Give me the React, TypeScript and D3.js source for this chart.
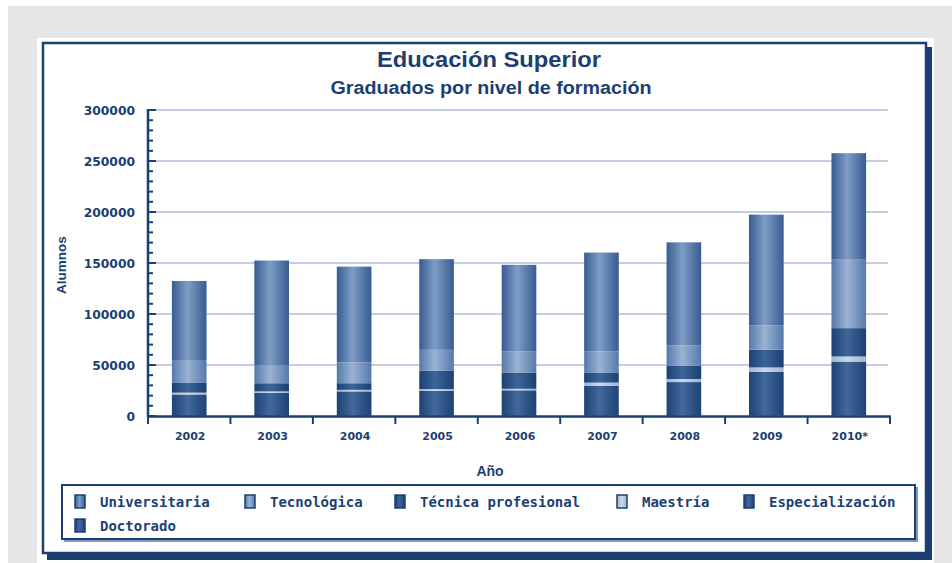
import React from 'react'
import * as d3 from 'd3'

// Data
const years = ['2002', '2003', '2004', '2005', '2006', '2007', '2008', '2009', '2010*']
const universitaria = [77500, 103000, 94000, 88900, 85000, 96800, 101000, 108500, 103800]
const tecnologica = [22500, 17300, 20300, 20300, 20500, 21200, 20000, 23800, 67700]
const tecnicaProfesional = [9500, 8000, 6500, 18200, 16000, 9500, 13000, 17500, 27800]
const maestria = [1800, 1500, 1500, 1700, 1500, 3000, 3000, 4300, 5000]
const especializacion = [21000, 22500, 24000, 24500, 25000, 29500, 33000, 43000, 53000]
const doctorado = [100, 120, 140, 160, 180, 220, 260, 300, 350]
const yTicks = [0, 50000, 100000, 150000, 200000, 250000, 300000]

const legendOrder = ['Universitaria', 'Tecnológica', 'Técnica profesional', 'Maestría', 'Especialización', 'Doctorado']
// bottom -> top
const stackOrder = ['Doctorado', 'Especialización', 'Maestría', 'Técnica profesional', 'Tecnológica', 'Universitaria']

const colors: Record<string, [string, string]> = {
  Universitaria: ['#375c91', '#7f9dc6'],
  'Tecnológica': ['#5679aa', '#9bb3d5'],
  'Técnica profesional': ['#1b4174', '#3e6598'],
  'Maestría': ['#9fb3d1', '#cdd8ea'],
  'Especialización': ['#1c4375', '#43689b'],
  Doctorado: ['#1c4375', '#43689b'],
}

const NAVY = '#1c3f72'
const W = 952
const H = 563

const App: React.FC = () => {
  const rows = years.map((y, i) => ({
    year: y,
    Universitaria: universitaria[i],
    'Tecnológica': tecnologica[i],
    'Técnica profesional': tecnicaProfesional[i],
    'Maestría': maestria[i],
    'Especialización': especializacion[i],
    Doctorado: doctorado[i],
  }))

  const x = d3.scaleBand<string>().domain(years).range([148, 890])
  const y = d3.scaleLinear().domain([0, 300000]).range([416, 110])
  const barW = x.bandwidth() * 0.42

  const series = d3.stack<any>().keys(stackOrder)(rows)
  const minor = d3.range(0, 300001, 10000)

  const gid = (k: string) => 'g' + stackOrder.indexOf(k)

  const legendPos = [
    [75, 500], [245, 500], [395, 500], [617, 500], [744, 500], [75, 524],
  ]

  return (
    <svg width={W} height={H} style={{ position: 'absolute', left: 0, top: 0 }}>
      <defs>
        {stackOrder.map((k) => (
          <linearGradient key={k} id={gid(k)} x1="0" x2="1" y1="0" y2="0">
            <stop offset="0%" stopColor={colors[k][0]} />
            <stop offset="45%" stopColor={colors[k][1]} />
            <stop offset="100%" stopColor={colors[k][0]} />
          </linearGradient>
        ))}
      </defs>
      <rect x={0} y={0} width={W} height={H} fill="#ffffff" />
      <rect x={8} y={6} width={W - 8} height={H - 6} fill="#e5e6e8" />
      <rect x={37} y={38} width={897} height={H - 38} fill="#ffffff" />
      {/* panel border with shadow */}
      <rect x={47} y={553} width={885} height={7} fill={NAVY} />
      <rect x={925} y={47} width={7} height={513} fill={NAVY} />
      <rect x={43} y={43} width={883} height={510} fill="none" stroke={NAVY} strokeWidth={2.5} />

      <text x={489} y={67} textAnchor="middle" fontFamily="Liberation Sans, Arial, sans-serif"
        fontWeight="bold" fontSize={22} fill={NAVY} textLength={224} lengthAdjust="spacingAndGlyphs">Educación Superior</text>
      <text x={491} y={94} textAnchor="middle" fontFamily="Liberation Sans, Arial, sans-serif"
        fontWeight="bold" fontSize={17.5} fill={NAVY} textLength={321} lengthAdjust="spacingAndGlyphs">Graduados por nivel de formación</text>

      {/* gridlines */}
      {yTicks.slice(1).map((t) => (
        <line key={t} x1={150} x2={888} y1={y(t)} y2={y(t)} stroke="#c3cee2" strokeWidth={2} />
      ))}

      {/* bars */}
      {series.map((s) => (
        <g key={s.key} fill={`url(#${gid(s.key)})`}>
          {s.map((d, i) => (
            <rect key={i} x={(x(years[i]) as number) + (x.bandwidth() - barW) / 2}
              y={y(d[1])} width={barW} height={Math.max(0, y(d[0]) - y(d[1]))} />
          ))}
        </g>
      ))}

      {/* y axis */}
      <line x1={148} x2={148} y1={109} y2={417} stroke={NAVY} strokeWidth={2.5} />
      {minor.map((t) => (
        <line key={t} x1={148} x2={t % 50000 === 0 ? 156 : 153} y1={y(t)} y2={y(t)} stroke={NAVY} strokeWidth={2} />
      ))}
      {yTicks.map((t) => (
        <text key={t} x={135} y={y(t) + 4.5} textAnchor="end" fontFamily="DejaVu Sans, sans-serif"
          fontWeight="bold" fontSize={12.3} fill={NAVY}>{t}</text>
      ))}
      <text transform="translate(66,265) rotate(-90)" textAnchor="middle" fontFamily="Liberation Sans, Arial, sans-serif"
        fontWeight="bold" fontSize={13.5} fill={NAVY}>Alumnos</text>

      {/* x axis */}
      <line x1={147} x2={891} y1={416.5} y2={416.5} stroke={NAVY} strokeWidth={2.5} />
      {years.map((yr) => (
        <line key={yr} x1={x(yr) as number} x2={x(yr) as number} y1={416} y2={424} stroke={NAVY} strokeWidth={2} />
      ))}
      <line x1={890} x2={890} y1={416} y2={424} stroke={NAVY} strokeWidth={2} />
      {years.map((yr) => (
        <text key={yr} x={(x(yr) as number) + x.bandwidth() / 2 + 1} y={440} textAnchor="middle"
          fontFamily="DejaVu Sans, sans-serif" fontWeight="bold" fontSize={11} fill={NAVY}>{yr}</text>
      ))}
      <text x={490} y={476} textAnchor="middle" fontFamily="Liberation Sans, Arial, sans-serif"
        fontWeight="bold" fontSize={14} fill={NAVY}>Año</text>

      {/* legend */}
      <rect x={64} y={487} width={854} height={55} fill="#7d97bf" />
      <rect x={62} y={485} width={853} height={54} fill="#ffffff" stroke={NAVY} strokeWidth={2} />
      {legendOrder.map((k, i) => (
        <g key={k}>
          <rect x={legendPos[i][0]} y={legendPos[i][1] - 5} width={10} height={13}
            fill={`url(#${gid(k)})`} stroke={NAVY} strokeWidth={1.5} />
          <text x={legendPos[i][0] + 25} y={legendPos[i][1] + 7} fontFamily="DejaVu Sans Mono, monospace"
            fontWeight="bold" fontSize={14} fill={NAVY}>{k}</text>
        </g>
      ))}
    </svg>
  )
}

export default App
